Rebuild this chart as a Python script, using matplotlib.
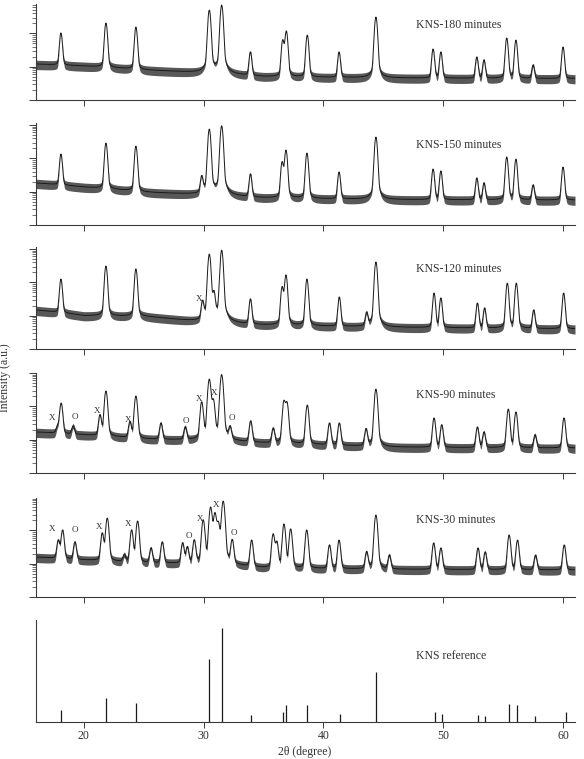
import numpy as np
import matplotlib.pyplot as plt
from matplotlib.ticker import LogLocator, NullFormatter

plt.rcParams['font.family'] = ['Liberation Serif', 'DejaVu Serif']

# 2-theta grid for the measured scans
two_theta = np.arange(16.0, 61.01, 0.02)

# background anchors (2theta) shared by all scans
bg_pos = [16, 20, 25, 30, 35, 45, 61]

# KNS-180 minutes: peak positions and apex intensities (counts)
pos_180 = [18.08, 21.84, 24.34, 30.47, 31.5, 33.9, 36.6, 36.9, 38.65, 41.3,
           44.38, 49.15, 49.8, 52.8, 53.4, 55.3, 56.07, 57.5, 60.0]
apex_180 = [1030, 2050, 1550, 5030, 7100, 277, 630, 1180, 890, 277,
            3100, 340, 277, 195, 159, 725, 630, 112, 390]
bg_180 = [120, 105, 80, 65, 50, 46, 44]

# KNS-150 minutes
pos_150 = [18.08, 21.84, 24.34, 29.83, 30.47, 31.5, 33.9, 36.55, 36.87, 38.62,
           41.3, 44.38, 49.15, 49.8, 52.8, 53.4, 55.3, 56.07, 57.5, 60.0]
apex_150 = [1350, 2880, 2340, 277, 7600, 9500, 340, 780, 1780, 1440,
            390, 4370, 480, 420, 258, 183, 1100, 950, 159, 550]
bg_150 = [182, 138, 97, 80, 65, 58, 56]

# KNS-120 minutes
pos_120 = [18.08, 21.84, 24.34, 29.9, 30.47, 30.85, 31.5, 33.9, 36.55, 36.87,
           38.62, 41.32, 43.6, 44.38, 49.23, 49.8, 52.85, 53.45, 55.35, 56.1,
           57.55, 60.05]
apex_120 = [1260, 3100, 2530, 258, 7100, 480, 9300, 316, 730, 1670,
            1260, 365, 120, 4100, 480, 340, 240, 170, 950, 950,
            148, 480]
bg_120 = [148, 100, 95, 62, 52, 45, 40]

# KNS-90 minutes
pos_90 = [17.8, 18.1, 19.1, 21.34, 21.84, 23.84, 24.34, 26.43, 28.46, 29.83,
          30.47, 30.8, 31.5, 32.2, 33.92, 35.8, 36.7, 36.95, 38.65, 40.5,
          41.32, 43.55, 44.38, 49.23, 49.87, 52.85, 53.4, 55.43, 56.07, 57.66,
          60.08]
apex_90 = [250, 1260, 258, 550, 2900, 340, 2050, 316, 240, 1350,
           6600, 1550, 9000, 225, 365, 220, 1450, 1300, 1100, 316,
           316, 210, 3300, 450, 280, 240, 170, 830, 680, 140,
           450]
bg_90 = [170, 140, 105, 95, 80, 60, 56]

# KNS-30 minutes
pos_30 = [17.86, 18.22, 19.25, 21.53, 21.95, 23.37, 23.98, 24.48, 25.6, 26.54,
          28.24, 28.63, 29.21, 29.96, 30.58, 30.94, 31.22, 31.63, 32.38, 34.0,
          35.8, 36.1, 36.7, 37.26, 38.6, 40.5, 41.3, 43.6, 44.38, 45.5,
          49.2, 49.8, 52.9, 53.5, 55.5, 56.2, 57.7, 60.1]
apex_30 = [510, 1030, 450, 830, 2340, 180, 1030, 1910, 295, 450,
           420, 316, 510, 2050, 5000, 3300, 1670, 7600, 510, 510,
           780, 450, 1550, 1100, 1030, 365, 510, 225, 2880, 180,
           420, 295, 295, 225, 730, 510, 180, 365]
bg_30 = [158, 130, 105, 100, 74, 68, 65]

# phase markers (x / o) for the early scans
mark_90_x = [17.3, 19.25, 21.09, 23.67, 28.52, 29.6, 30.86, 32.36]
mark_90_y = [447, 480, 725, 390, 365, 1670, 2530, 447]
mark_90_t = ['X', 'O', 'X', 'X', 'O', 'X', 'X', 'O']
mark_30_x = [17.33, 19.25, 21.25, 23.67, 28.77, 29.69, 31.02, 32.53]
mark_30_y = [1100, 1030, 1260, 1550, 680, 2200, 5800, 830]
mark_30_t = ['X', 'O', 'X', 'X', 'O', 'X', 'X', 'O']
mark_120_x = [29.6]
mark_120_y = [316]
mark_120_t = ['X']

# KNS reference pattern (relative intensity)
ref_pos = [18.07, 21.81, 24.34, 30.45, 31.54, 33.92, 36.6, 36.85, 38.66, 41.34,
           44.4, 49.27, 49.86, 52.89, 53.45, 55.48, 56.16, 57.66, 60.22]
ref_int = [12.7, 25.4, 20.1, 67.1, 100, 7.4, 11, 18.4, 17.7, 8.1,
           53, 10.6, 8.8, 7.1, 6.4, 19.4, 17.7, 6.0, 10.6]


def pattern(pos, apex, bg_vals, fwhm, eta=0.12):
    bg = np.interp(two_theta, bg_pos, bg_vals)
    y = bg.copy()
    for p, a in zip(pos, apex):
        amp = max(a - np.interp(p, bg_pos, bg_vals), 0)
        d = (two_theta - p) / fwhm
        y += amp * (eta / (1 + 4 * d**2) + (1 - eta) * np.exp(-4 * np.log(2) * d**2))
    return y, bg


W, H = 584, 759
fig = plt.figure(figsize=(W / 100, H / 100), dpi=100)

# (top, bottom) of each panel in pixels
panel_px = [(4, 100), (123, 225), (247, 349), (373, 473), (498, 597), (620, 722)]
px_per_decade = 33.3

scans = [
    (pos_180, apex_180, bg_180, 0.22, 'KNS-180 minutes', [], [], []),
    (pos_150, apex_150, bg_150, 0.22, 'KNS-150 minutes', [], [], []),
    (pos_120, apex_120, bg_120, 0.22, 'KNS-120 minutes', mark_120_x, mark_120_y, mark_120_t),
    (pos_90, apex_90, bg_90, 0.24, 'KNS-90 minutes', mark_90_x, mark_90_y, mark_90_t),
    (pos_30, apex_30, bg_30, 0.24, 'KNS-30 minutes', mark_30_x, mark_30_y, mark_30_t),
]

axes = []
for top, bot in panel_px:
    ax = fig.add_axes([36 / W, 1 - bot / H, 539 / W, (bot - top) / H])
    ax.set_xlim(16, 61)
    ax.spines['top'].set_visible(False)
    ax.spines['right'].set_visible(False)
    for s in ('left', 'bottom'):
        ax.spines[s].set_color('#3a3a3a')
        ax.spines[s].set_linewidth(0.8)
    ax.set_xticks([20, 30, 40, 50, 60])
    ax.tick_params(axis='x', direction='out', length=4, width=0.7,
                   color='#3a3a3a', labelbottom=False)
    axes.append(ax)

for ax, (top, bot), sc in zip(axes[:5], panel_px[:5], scans):
    pos, apex, bgv, fw, label, mx, my, mt = sc
    y, bg = pattern(pos, apex, bgv, fw)
    ax.set_yscale('log')
    ax.set_ylim(10, 10 ** (1 + (bot - top) / px_per_decade))
    ax.yaxis.set_major_locator(LogLocator(base=10, numticks=20))
    ax.yaxis.set_minor_locator(LogLocator(base=10, subs=np.arange(2, 10), numticks=20))
    ax.yaxis.set_minor_formatter(NullFormatter())
    ax.fill_between(two_theta, y - 0.32 * bg, y + 0.3 * bg,
                    color='#2e2e2e', lw=0, alpha=0.8)
    ax.plot(two_theta, y, color='#1a1a1a', lw=0.7)
    ax.tick_params(axis='y', which='both', direction='out', color='#3a3a3a',
                   labelleft=False)
    ax.tick_params(axis='y', which='major', length=5, width=0.7)
    ax.tick_params(axis='y', which='minor', length=3, width=0.5)
    ax.text(47.7, 0.78, label, transform=ax.get_xaxis_transform(),
            fontsize=8.5, color='#333333', va='center', ha='left')
    for xx, yy, tt in zip(mx, my, mt):
        ax.text(xx, yy, tt, fontsize=6.5, color='#333333', ha='center', va='center')

# reference sticks
ax = axes[5]
ax.set_ylim(0, 108)
ax.vlines(ref_pos, 0, ref_int, color='#1a1a1a', lw=0.9)
ax.set_yticks([])
ax.tick_params(axis='x', labelbottom=True, labelsize=8.5, labelcolor='#333333', pad=2)
ax.text(47.7, 0.65, 'KNS reference', transform=ax.get_xaxis_transform(),
        fontsize=8.5, color='#333333', va='center', ha='left')

fig.text(5 / W, 1 - 378 / H, 'Intensity (a.u.)', rotation=90, fontsize=8.5,
         color='#333333', ha='center', va='center')
fig.text(305 / W, 1 / H, '2θ (degree)', fontsize=8.5,
         color='#333333', ha='center', va='bottom')

fig.savefig('out.png', dpi=100)
